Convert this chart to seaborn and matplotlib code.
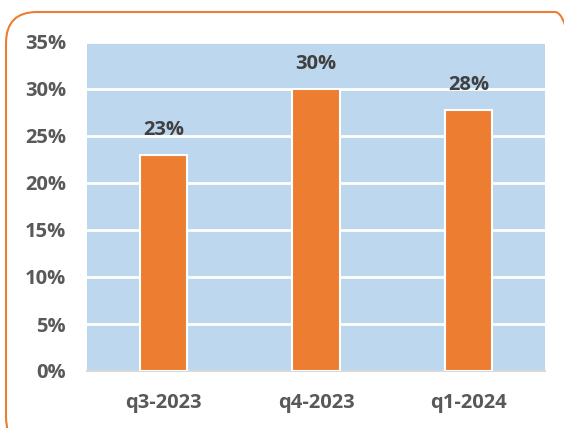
import matplotlib
matplotlib.use("Agg")
import matplotlib.pyplot as plt
from matplotlib.patches import FancyBboxPatch
from matplotlib.ticker import MultipleLocator, PercentFormatter
import seaborn as sns
import pandas as pd

quarters = ["q3-2023", "q4-2023", "q1-2024"]
rates = [0.23, 0.30, 0.278]
labels = ["23%", "30%", "28%"]

sns.set_theme(style="white")
plt.rcParams["font.family"] = ["Open Sans", "DejaVu Sans"]

W, H = 564, 428
fig = plt.figure(figsize=(W / 100, H / 100), dpi=100)
ax = fig.add_axes([87 / W, (H - 371) / H, 458 / W, 329 / H])

df = pd.DataFrame({"quarter": quarters, "rate": rates})
sns.barplot(data=df, x="quarter", y="rate", ax=ax, color="#ED7D31",
            saturation=1, width=0.31, edgecolor="white", linewidth=1.5, zorder=3)

ax.set_facecolor("#BDD7EE")
ax.set_ylim(0, 0.35)
ax.set_xlim(-0.5, 2.5)
ax.yaxis.set_major_locator(MultipleLocator(0.05))
ax.yaxis.set_major_formatter(PercentFormatter(1.0, decimals=0))
ax.grid(axis="y", color="white", linewidth=2, zorder=1)
ax.set_axisbelow(True)
for s in ["top", "right", "left"]:
    ax.spines[s].set_visible(False)
ax.spines["bottom"].set_color("#D9D9D9")
ax.spines["bottom"].set_linewidth(1.5)
ax.set_xlabel("")
ax.set_ylabel("")
ax.tick_params(axis="y", length=0, pad=15, labelsize=14.5, labelcolor="#595959")
ax.tick_params(axis="x", length=0, pad=16, labelsize=14.5, labelcolor="#595959")
for t in ax.get_xticklabels() + ax.get_yticklabels():
    t.set_fontweight("bold")

for i, (v, lab) in enumerate(zip(rates, labels)):
    ax.annotate(lab, (i, v), xytext=(0, 18), textcoords="offset points",
                ha="center", va="center", fontsize=14.5, fontweight="bold",
                color="#404040", zorder=5)

border = FancyBboxPatch((6 / W, -20 / H), 580 / W, (H - 12 + 20) / H,
                        boxstyle="round,pad=0,rounding_size=0.055",
                        transform=fig.transFigure, facecolor="none",
                        edgecolor="#ED7D31", linewidth=1.5, clip_on=False,
                        mutation_aspect=W / H)
fig.patches.append(border)

fig.savefig("out.png", dpi=100)
